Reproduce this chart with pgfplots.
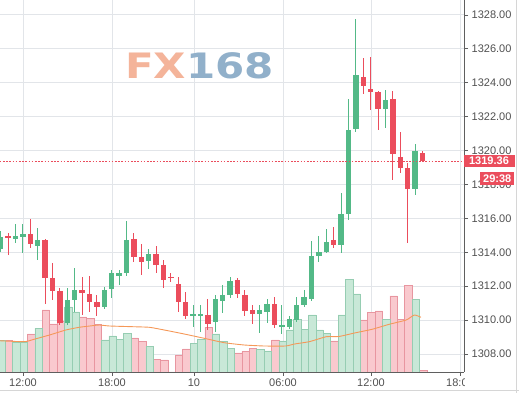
\documentclass[border=0pt]{standalone}
\usepackage{pgfplots}
\usepackage{pgfplotstable}
\pgfplotsset{compat=1.18}
\usepackage{fontspec}
\setmainfont{Liberation Sans}
\newfontfamily\wmfont{DejaVu Sans}
\definecolor{upc}{RGB}{83,185,135}
\definecolor{dnc}{RGB}{235,77,92}
\definecolor{vupf}{RGB}{200,232,215}
\definecolor{vupd}{RGB}{150,205,178}
\definecolor{vdnf}{RGB}{249,201,206}
\definecolor{vdnd}{RGB}{232,150,160}
\definecolor{gridc}{RGB}{226,229,233}
\definecolor{axc}{RGB}{95,95,95}
\definecolor{labc}{RGB}{80,80,80}
\definecolor{mac}{RGB}{245,152,88}
\definecolor{wmfx}{RGB}{244,180,154}
\definecolor{wmnum}{RGB}{145,176,202}
\definecolor{brd}{RGB}{214,214,214}

\pgfplotstableread{
k  o        h        l        c        v
0  1314.18  1315.26  1314.02  1314.92  31.5
2  1314.77  1315.67  1314.57  1314.96  30
3  1314.92  1315.67  1313.98  1315.10  30
5  1314.39  1315.42  1313.55  1314.73  43.7
9  1309.85  1311.88  1309.71  1311.19  65
10 1311.19  1313.06  1310.48  1311.78  60
14 1310.76  1311.97  1310.64  1311.78  32
15 1311.82  1312.96  1311.29  1312.80  36
16 1312.64  1312.96  1312.07  1312.78  32.7
17 1312.76  1315.87  1312.60  1314.73  38.7
20 1313.50  1314.18  1313.00  1313.90  25.7
26 1310.24  1310.89  1309.61  1310.34  28.7
27 1310.28  1310.89  1309.32  1310.36  32.7
29 1309.91  1311.48  1309.32  1311.24  38
30 1311.14  1312.07  1310.40  1311.48  30.3
31 1311.52  1312.53  1311.29  1312.31  23.7
35 1310.38  1310.89  1309.26  1310.60  22.7
36 1310.50  1311.23  1309.85  1310.95  21
38 1309.61  1310.89  1309.18  1309.71  31
39 1309.61  1310.24  1309.46  1310.07  42
40 1310.01  1311.38  1309.91  1310.89  52.7
41 1310.89  1311.78  1310.77  1311.36  42.7
42 1311.24  1314.68  1311.15  1313.80  57
43 1313.78  1314.96  1313.45  1314.04  42
44 1314.00  1315.36  1313.94  1314.59  38.7
46 1314.47  1317.48  1313.94  1316.26  57
47 1316.26  1323.03  1315.91  1321.22  92.7
48 1321.26  1327.75  1321.12  1324.46  78
52 1322.44  1323.58  1321.32  1322.99  52.7
56 1317.72  1320.39  1317.38  1319.98  72.7
}\upc

\pgfplotstableread{
k  o        h        l        c        v
1  1314.96  1315.12  1313.84  1314.83  31.5
4  1315.10  1316.00  1314.24  1314.53  38
6  1314.73  1314.80  1310.95  1312.50  62
7  1312.50  1313.35  1311.19  1311.73  48
8  1311.73  1311.88  1309.71  1309.85  50.3
11 1311.78  1312.56  1310.30  1311.58  55
12 1311.54  1312.60  1310.50  1311.05  53.7
13 1311.05  1311.48  1310.24  1310.79  47.5
18 1314.78  1315.12  1313.45  1313.71  34
19 1313.71  1314.53  1312.66  1313.45  30.3
21 1313.90  1314.39  1312.76  1313.25  12.7
22 1313.25  1313.55  1311.93  1312.37  12
23 1312.58  1312.80  1312.27  1312.48  0
24 1312.13  1312.56  1310.50  1311.09  17
25 1311.07  1311.68  1310.11  1310.24  23
28 1310.30  1311.24  1309.42  1309.81  44.7
32 1312.37  1312.47  1311.29  1311.52  19
33 1311.46  1311.78  1310.24  1310.55  20.7
34 1310.60  1310.93  1309.81  1310.38  23.7
37 1310.99  1311.34  1309.55  1309.75  32
45 1314.73  1315.51  1314.24  1314.43  31
49 1324.38  1325.45  1323.34  1323.81  52
50 1323.63  1325.54  1322.40  1323.47  59.7
51 1323.46  1323.50  1321.22  1322.47  61
53 1323.04  1323.53  1318.27  1319.78  76
54 1319.62  1321.12  1318.66  1319.01  52.7
55 1318.97  1319.29  1314.57  1317.72  86.3
57 1319.84  1319.99  1319.35  1319.36  1.7
}\dnc

\pgfplotsset{
  common/.style={
    width=464pt, height=372pt, scale only axis,
    at={(0pt,0pt)}, anchor=south west,
    xmin=-0.095, xmax=62.61,
    xtick={3.01,15.04,26.12,38.15,50.04,62.07},
  },
  pricey/.style={
    ymin=1306.94, ymax=1328.88,
    ytick={1308,1310,...,1328},
  },
  candle/.style 2 args={draw=none, no markers, forget plot,
    error bars/.cd, y dir=both, y explicit, error mark=none,
    error bar style={draw=#1, line width=#2, solid}},
}

\begin{document}
\begin{tikzpicture}[x=1pt,y=1pt]
\useasboundingbox (0,-21) rectangle (519,372);

% grid only
\begin{axis}[common, pricey,
  grid=major, grid style={draw=gridc, line width=0.9pt},
  axis line style={draw=none}, tick style={draw=none},
  xticklabels={}, yticklabels={}]
\end{axis}

% watermark
\node[anchor=base west, inner sep=0pt, xscale=1.2,
  font=\wmfont\bfseries\fontsize{35}{36}\selectfont] at (125,293)
  {\textcolor{wmfx}{FX}\textcolor{wmnum}{168}};

% volume
\begin{axis}[common, ymin=0, ymax=372, hide axis]
\addplot[ybar, bar width=1, bar shift=0.8pt, fill=vdnf, draw=vdnd, line width=0.6pt]
  table[x=k, y=v]{\dnc};
\addplot[ybar, bar width=1, bar shift=0.8pt, fill=vupf, draw=vupd, line width=0.6pt]
  table[x=k, y=v]{\upc};
\addplot[mac, line width=0.9pt, smooth, tension=0.3] coordinates {
(-0.3,31.3) (3.2,30.3) (4.5,32.7) (6.6,37) (8.8,42) (10.6,44.7) (12.4,46.3)
(13.3,47) (14.7,46) (17.8,45.3) (20.1,44.7) (22.1,42) (24.8,38) (27.5,33.7)
(30.2,29.3) (32.9,27) (35.6,26) (38.5,26) (39.7,28) (41.7,30.3) (44,35.3)
(45.7,35.5) (48,39.3) (50.2,42.7) (52.5,47.7) (54.8,52) (55.9,57) (56.8,54.7)};
\end{axis}

% candles, axes, labels
\begin{axis}[common, pricey,
  axis x line*=bottom, axis y line*=right,
  axis line style={draw=axc, line width=0.9pt, -},
  tick align=outside, major tick length=4pt,
  tick style={draw=axc, line width=0.8pt},
  xticklabels={12:00,18:00,10,06:00,12:00,18:00},
  yticklabel pos=right,
  ticklabel style={font=\fontsize{11}{13}\selectfont, text=labc, inner sep=0pt},
  yticklabel shift=3.5pt, xticklabel shift=3pt,
  y tick label style={/pgf/number format/.cd, fixed, fixed zerofill, precision=2,
    1000 sep={}, assume math mode=true},
  clip=true]
% wicks
\addplot[candle={upc}{1pt}]
  table[x=k, y expr=(\thisrow{h}+\thisrow{l})/2,
        y error expr=(\thisrow{h}-\thisrow{l})/2]{\upc};
\addplot[candle={dnc}{1pt}]
  table[x=k, y expr=(\thisrow{h}+\thisrow{l})/2,
        y error expr=(\thisrow{h}-\thisrow{l})/2]{\dnc};
% bodies
\addplot[candle={upc}{5.4pt}]
  table[x=k, y expr=(\thisrow{o}+\thisrow{c})/2,
        y error expr={max(abs(\thisrow{c}-\thisrow{o})/2,0.035)}]{\upc};
\addplot[candle={dnc}{5.4pt}]
  table[x=k, y expr=(\thisrow{o}+\thisrow{c})/2,
        y error expr={max(abs(\thisrow{c}-\thisrow{o})/2,0.035)}]{\dnc};
% current price line
\addplot[dnc, line width=0.8pt, dash pattern=on 1.6pt off 1.6pt]
  coordinates {(-1,1319.36) (63,1319.36)};
\end{axis}

% hide the part of the last time label under the price scale
\fill[white] (464.5,-21) rectangle (519,-0.6);

% price label boxes
\node[fill=dnc, text=white, font=\bfseries\fontsize{11}{13}\selectfont,
  minimum width=51pt, minimum height=12pt, inner sep=0pt, anchor=west]
  at (463.3,211.2) {1319.36};
\node[fill=dnc, text=white, font=\bfseries\fontsize{11}{13}\selectfont,
  minimum width=34pt, minimum height=13pt, inner sep=0pt]
  at (497.2,193.7) {29:38};

% frame
\draw[brd, line width=1.2pt] (516.8,-21) -- (516.8,372);
\draw[brd, line width=1.2pt] (0,-18.8) -- (519,-18.8);
\end{tikzpicture}
\end{document}
